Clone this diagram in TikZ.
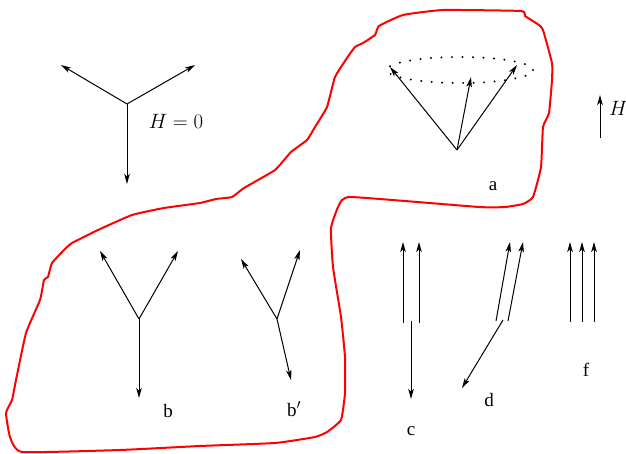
\documentclass[tikz,border=0pt]{standalone}
\usepackage{fontspec}
\newfontfamily\lblfont{Liberation Serif}
\usetikzlibrary{arrows.meta}
\tikzset{
  vec/.style={line width=1pt, -{Stealth[length=10pt,width=5.5pt,inset=2.5pt]}},
  lbl/.style={font=\lblfont\fontsize{19}{19}\selectfont, inner sep=0pt},
  mlbl/.style={font=\huge, inner sep=0pt},
  region/.style={draw=red, line width=2pt, line join=round},
  dotring/.style={line width=2.2pt, line cap=round, dash pattern=on 0pt off 10.5pt}
}
\begin{document}
\begin{tikzpicture}[x=1pt,y=-1pt]
\useasboundingbox (0,0) rectangle (626,454);
% red region
\draw[region] plot[smooth cycle, tension=0.25] coordinates {
(22,452) (10,437) (6,413) (12,400) (16,380) (26,333) (40,300) (44,280) (48,277)
(52,263) (66,248) (72,243) (80,239) (98,230) (132,215) (164,208) (200,203) (216,199)
(232,197) (244,188) (275,170) (291,152) (307,140) (315,127) (327,107) (335,77)
(347,58) (355,47) (363,43) (375,35) (379,26) (403,15) (443,10) (521,11) (525,16)
(539,25) (543,30) (552,63) (552,80) (549,113) (543,127) (541,167) (533,197)
(523,204) (505,207) (479,207) (351,197) (339,205) (331,228) (333,267) (341,317)
(345,357) (345,393) (341,420) (327,432) (315,437) (275,443) (200,446) (120,450)};

% H = 0 star
\coordinate (y0) at (127,104);
\coordinate (y0l) at (61,65);
\coordinate (y0r) at (195,65);
\coordinate (y0d) at (127,184);
\draw[vec] (y0) -- (y0l);
\draw[vec] (y0) -- (y0r);
\draw[vec] (y0) -- (y0d);
\node[mlbl] (h0) at (176,121) {$H=0$};

% cone a
\draw[dotring] (460,70) ellipse [x radius=73pt, y radius=13pt];
\coordinate (ap) at (457,150);
\coordinate (al) at (390,67);
\coordinate (ar) at (517,65);
\coordinate (am) at (471,77);
\draw[vec] (ap) -- (al);
\draw[vec] (ap) -- (ar);
\draw[vec] (ap) -- (am);
\node[lbl] (la) at (493,186) {a};

% H field
\coordinate (hb) at (600,138);
\coordinate (ht) at (600,95);
\draw[vec] (hb) -- (ht);
\node[mlbl, anchor=west] (hl) at (609,108) {$H$};

% b
\coordinate (bc) at (139,319);
\coordinate (bl) at (100,251);
\coordinate (br) at (178,251);
\coordinate (bd) at (139,398);
\draw[vec] (bc) -- (bl);
\draw[vec] (bc) -- (br);
\draw[vec] (bc) -- (bd);
\node[lbl] (lb) at (168,411) {b};

% b'
\coordinate (pc) at (277,319);
\coordinate (pl) at (241,259);
\coordinate (pr) at (300,250);
\coordinate (pd) at (291,380);
\draw[vec] (pc) -- (pl);
\draw[vec] (pc) -- (pr);
\draw[vec] (pc) -- (pd);
\node[lbl] (lbp) at (294,409) {b$^{\prime}$};

% c
\coordinate (c1b) at (403,323);
\coordinate (c1t) at (403,242);
\coordinate (c2b) at (419,323);
\coordinate (c2t) at (419,242);
\coordinate (c3t) at (411,321);
\coordinate (c3b) at (411,399);
\draw[vec] (c1b) -- (c1t);
\draw[vec] (c2b) -- (c2t);
\draw[vec] (c3t) -- (c3b);
\node[lbl] (lc) at (411,431) {c};

% d
\coordinate (d1b) at (496,321);
\coordinate (d1t) at (510,242);
\coordinate (d2b) at (508,321);
\coordinate (d2t) at (523,242);
\coordinate (d3t) at (503,320);
\coordinate (d3b) at (462,388);
\draw[vec] (d1b) -- (d1t);
\draw[vec] (d2b) -- (d2t);
\draw[vec] (d3t) -- (d3b);
\node[lbl] (ld) at (489,400) {d};

% f
\coordinate (f1b) at (570,322);
\coordinate (f1t) at (570,242);
\coordinate (f2b) at (582,322);
\coordinate (f2t) at (582,242);
\coordinate (f3b) at (594,322);
\coordinate (f3t) at (594,242);
\draw[vec] (f1b) -- (f1t);
\draw[vec] (f2b) -- (f2t);
\draw[vec] (f3b) -- (f3t);
\node[lbl] (lf) at (586,370) {f};
\end{tikzpicture}
\end{document}
